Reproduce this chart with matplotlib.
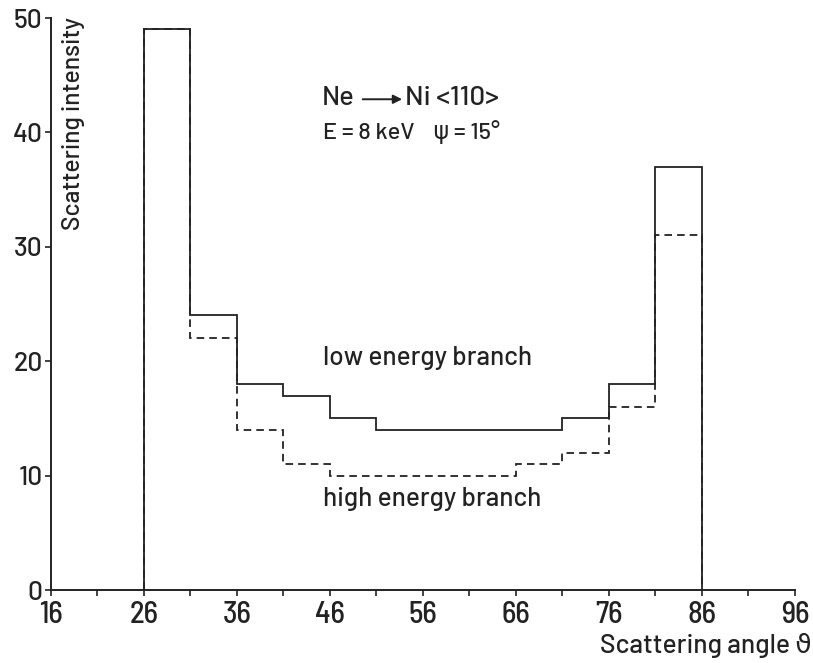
import matplotlib
matplotlib.use("Agg")
import matplotlib.pyplot as plt
import numpy as np

edges = [26, 31, 36, 41, 46, 51, 56, 61, 66, 71, 76, 81, 86]
low_energy = [49, 24, 18, 17, 15, 14, 14, 14, 14, 15, 18, 37]
high_energy = [49, 22, 14, 11, 10, 10, 10, 10, 11, 12, 16, 31]
xticks = [16, 26, 36, 46, 56, 66, 76, 86, 96]
xminor = [21, 31, 41, 51, 61, 71, 81, 91]
yticks = [0, 10, 20, 30, 40, 50]

FONT = ['Barlow', 'DejaVu Sans']
FONT_C = ['Barlow Semi Condensed', 'DejaVu Sans']
plt.rcParams['font.family'] = FONT
plt.rcParams['font.weight'] = 500
ink = '#222222'

fig = plt.figure(figsize=(8.13, 6.63), dpi=100)
ax = fig.add_axes([0.0627, 0.1101, 0.9151, 0.8627])

ax.stairs(high_energy, edges, baseline=0, color=ink, lw=1.3, ls=(0, (4.2, 2.8)), zorder=2)
ax.stairs(low_energy, edges, baseline=0, color=ink, lw=1.3, zorder=3)

ax.set_xlim(16, 96)
ax.set_ylim(0, 50)
for s in ['top', 'right']:
    ax.spines[s].set_visible(False)
for s in ['left', 'bottom']:
    ax.spines[s].set_color(ink)
    ax.spines[s].set_linewidth(1.4)

ax.set_xticks(xticks)
ax.set_xticks(xminor, minor=True)
ax.set_yticks(yticks)
ax.tick_params(axis='x', which='both', direction='out', length=4, width=1.2, color=ink,
               labelsize=22, pad=4, labelcolor=ink)
ax.tick_params(axis='y', direction='out', length=4.5, width=1.2, color=ink,
               labelsize=19, pad=1.5, labelcolor=ink)
for lab in ax.get_xticklabels():
    lab.set_family(FONT_C)
    lab.set_weight(500)
for lab in ax.get_yticklabels():
    lab.set_family(FONT)
    lab.set_weight(500)

ax.text(0.0148, 1.002, 'Scattering intensity', transform=ax.transAxes, rotation=90,
        ha='left', va='top', fontsize=17.8, color=ink)
fig.text(0.998, 0.015, 'Scattering angle \u03d1', ha='right', va='baseline', fontsize=19, color=ink)

ax.text(0.364, 0.848, 'Ne', transform=ax.transAxes, fontsize=19.5, color=ink, va='baseline')
ax.annotate('', xy=(0.472, 0.858), xytext=(0.419, 0.858), xycoords='axes fraction',
            arrowprops=dict(arrowstyle='-|>', color=ink, lw=1.4, mutation_scale=13, shrinkA=0, shrinkB=0))
ax.text(0.476, 0.848, 'Ni <110>', transform=ax.transAxes, fontsize=20, color=ink, va='baseline')
ax.text(0.366, 0.788, 'E = 8 keV    \u03c8 = 15\u00b0', transform=ax.transAxes, fontsize=17,
        color=ink, va='baseline')

ax.text(0.365, 0.393, 'low energy branch', transform=ax.transAxes, fontsize=18.8, color=ink, va='baseline')
ax.text(0.365, 0.147, 'high energy branch', transform=ax.transAxes, fontsize=18.8, color=ink, va='baseline')

fig.savefig('out.png', dpi=100)
